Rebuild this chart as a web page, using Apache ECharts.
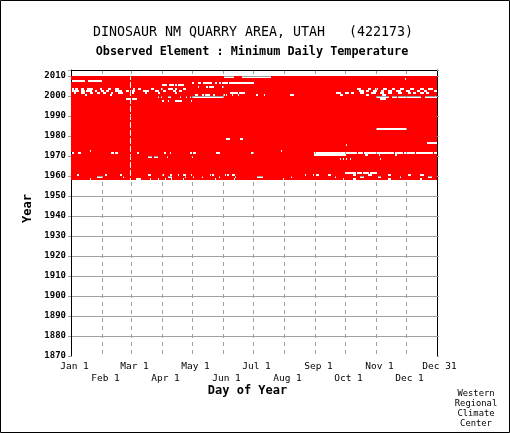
<!DOCTYPE html>
<html>
<head>
<meta charset="utf-8">
<script src="https://cdn.jsdelivr.net/npm/echarts@6/dist/echarts.min.js"></script>
<style>
  html, body { margin: 0; padding: 0; background: #fff; }
  #chart { width: 510px; height: 433px; }
</style>
</head>
<body>
<div id="chart"></div>
<script>
// days are numbered 1..366 on a leap-year calendar (day 60 = Feb 29)
const yearRange = [1959, 2010]
const monthStartDays = [1, 32, 61, 92, 122, 153, 183, 214, 245, 275, 306, 336]
const labelDays = [1, 32, 61, 92, 122, 153, 183, 214, 245, 275, 306, 336, 366]
const dayLabels = ['Jan 1', 'Feb 1', 'Mar 1', 'Apr 1', 'May 1', 'Jun 1', 'Jul 1',
  'Aug 1', 'Sep 1', 'Oct 1', 'Nov 1', 'Dec 1', 'Dec 31']

// missing days per year, [first, last] inclusive
const missingDays = {
  2010: [[154, 163], [172, 200]],
  2009: [[335, 335]],
  2008: [[1, 14], [18, 31]],
  2007: [[122, 123], [128, 130], [133, 141], [145, 146], [149, 150], [152, 157], [159, 183]],
  2006: [[92, 96], [99, 103], [105, 106], [108, 113]],
  2005: [[128, 128], [136, 137], [139, 143], [152, 153]],
  2004: [[2, 3], [5, 7], [11, 13], [17, 22], [30, 31], [38, 40], [45, 48], [63, 64], [68, 70],
    [81, 83], [91, 92], [98, 102], [105, 106], [113, 115],
    [287, 290], [298, 300], [305, 307], [313, 316], [322, 324], [330, 333], [340, 343],
    [350, 353], [358, 362]],
  2003: [[2, 8], [11, 14], [16, 21], [25, 26], [31, 33], [36, 38], [45, 51], [56, 58], [62, 64],
    [73, 78], [85, 88], [93, 95], [103, 105], [109, 111],
    [289, 293], [296, 298], [303, 306], [311, 313], [318, 321], [326, 330], [336, 339],
    [347, 349], [354, 356], [364, 366]],
  2002: [[4, 5], [11, 14], [20, 22], [27, 29], [33, 35], [41, 42], [48, 52], [62, 63], [75, 76],
    [88, 89], [105, 106], [160, 167], [169, 174],
    [266, 270], [275, 278], [281, 283], [290, 293], [301, 305], [310, 313], [318, 321],
    [328, 331], [338, 340], [343, 345], [350, 353], [356, 358]],
  2001: [[15, 16], [40, 41], [125, 127], [132, 133], [135, 139], [143, 144], [153, 154],
    [156, 156], [162, 162], [168, 168], [186, 187], [194, 194], [220, 223],
    [270, 272], [296, 298], [312, 315]],
  2000: [[88, 88], [91, 91], [98, 100], [110, 110], [116, 116], [120, 120], [122, 153],
    [306, 318], [322, 326], [328, 350], [355, 366]],
  1999: [[56, 59], [62, 66], [310, 315]],
  1998: [[92, 93], [98, 98], [105, 111], [121, 121]],
  1984: [[306, 336]],
  1979: [[156, 159], [170, 172]],
  1977: [[357, 366]],
  1976: [[276, 276]],
  1973: [[20, 20], [211, 211]],
  1972: [[1, 3], [8, 10], [41, 43], [45, 47], [67, 68], [94, 95], [100, 100], [120, 121],
    [123, 125], [146, 149], [181, 183], [244, 286], [288, 292], [294, 323], [325, 332],
    [334, 344], [346, 362], [364, 366]],
  1971: [[244, 275], [295, 297], [309, 309], [325, 326]],
  1970: [[78, 81], [84, 87], [97, 97], [122, 122]],
  1969: [[270, 270], [273, 273], [276, 276], [280, 280], [310, 310]],
  1962: [[275, 285], [287, 291], [293, 298], [300, 306]],
  1961: [[7, 8], [35, 36], [50, 51], [78, 80], [92, 93], [100, 101], [108, 108], [113, 115],
    [121, 121], [140, 140], [142, 143], [155, 155], [157, 158], [162, 164], [235, 235],
    [243, 243], [246, 248], [258, 260], [283, 285], [298, 301], [318, 320], [338, 340],
    [350, 353]],
  1960: [[27, 32], [53, 53], [98, 101], [115, 115], [123, 123], [132, 132], [149, 149],
    [165, 165], [187, 192], [221, 221], [265, 265], [290, 293], [308, 310], [330, 330],
    [358, 361]],
  1959: [[20, 20], [66, 70], [80, 80], [88, 88], [95, 95], [101, 101], [113, 113], [145, 145],
    [164, 164], [213, 213], [273, 273], [283, 285], [318, 320], [350, 351]]
}

const FONT = 'DejaVu Sans Mono'
const GRID_GREY = '#a0a0a0'

// turn the gaps of one year into runs of days that have data
function presentRuns(year) {
  const gaps = (missingDays[year] || []).slice()
  if (year % 4 !== 0) gaps.push([60, 60]) // no Feb 29 in common years
  gaps.sort((a, b) => a[0] - b[0])
  const runs = []
  let d = 1
  gaps.forEach(g => {
    if (g[0] > d) runs.push([d, g[0] - 1, year])
    d = Math.max(d, g[1] + 1)
  })
  if (d <= 366) runs.push([d, 366, year])
  return runs
}

let runs = []
for (let y = yearRange[0]; y <= yearRange[1]; y++) {
  runs = runs.concat(presentRuns(y))
}

// labels alternate between two rows under the axis
const upperRowDays = labelDays.filter((d, i) => i % 2 === 0)
const lowerRowDays = labelDays.filter((d, i) => i % 2 === 1)
const dayLabel = v => {
  const i = labelDays.indexOf(v)
  return i < 0 ? '' : dayLabels[i]
}
const labelStyle = {
  fontFamily: FONT,
  fontSize: 9.5,
  color: '#000',
  padding: [0, 0, 0, 7],
  hideOverlap: false,
  showMinLabel: true,
  showMaxLabel: true,
  formatter: dayLabel
}

const chart = echarts.init(document.getElementById('chart'))

chart.setOption({
  animation: false,
  grid: { left: 71, top: 70, width: 366, height: 286 },
  graphic: [
    {
      type: 'rect',
      shape: { x: 0.5, y: 0.5, width: 509, height: 432 },
      style: { fill: 'none', stroke: '#000', lineWidth: 1 }
    },
    {
      type: 'text',
      style: {
        x: 253, y: 33, text: 'DINOSAUR NM QUARRY AREA, UTAH   (422173)',
        font: '13.3px "' + FONT + '"', fill: '#000', align: 'center', verticalAlign: 'middle'
      }
    },
    {
      type: 'text',
      style: {
        x: 252, y: 52, text: 'Observed Element : Minimum Daily Temperature',
        font: 'bold 11.8px "' + FONT + '"', fill: '#000', align: 'center', verticalAlign: 'middle'
      }
    },
    {
      type: 'text',
      style: {
        x: 476, y: 389, text: 'Western\nRegional\nClimate\nCenter',
        font: '8.8px "' + FONT + '"', lineHeight: 10, fill: '#000', align: 'center', verticalAlign: 'top'
      }
    }
  ],
  xAxis: [
    {
      type: 'value',
      min: 1,
      max: 367,
      position: 'bottom',
      name: 'Day of Year',
      nameLocation: 'middle',
      nameGap: 29,
      nameTextStyle: { fontFamily: FONT, fontWeight: 'bold', fontSize: 12, color: '#000', padding: [0, 13, 0, 0] },
      axisLine: { show: false },
      axisTick: { show: false, customValues: monthStartDays.slice(1) },
      splitLine: { show: true, lineStyle: { color: GRID_GREY, type: [4, 4], width: 1 } },
      axisLabel: Object.assign({ customValues: upperRowDays, margin: 6 }, labelStyle)
    },
    {
      type: 'value',
      min: 1,
      max: 367,
      position: 'bottom',
      axisLine: { show: false },
      axisTick: { show: false },
      splitLine: { show: false },
      axisLabel: Object.assign({ customValues: lowerRowDays, margin: 17.5 }, labelStyle)
    },
    {
      type: 'value',
      min: 1,
      max: 367,
      position: 'top',
      axisLine: { show: true, lineStyle: { color: '#000', width: 1 } },
      axisTick: { show: false },
      axisLabel: { show: false },
      splitLine: { show: false }
    }
  ],
  yAxis: [
    {
      type: 'value',
      min: 1870,
      max: 2013,
      interval: 10,
      position: 'left',
      name: 'Year',
      nameLocation: 'middle',
      nameGap: 37,
      nameRotate: 90,
      nameTextStyle: { fontFamily: FONT, fontWeight: 'bold', fontSize: 12, color: '#000', padding: [0, 0, 0, 9] },
      axisLine: { show: true, lineStyle: { color: '#000', width: 1 } },
      axisTick: { show: true, length: 3, lineStyle: { color: GRID_GREY } },
      splitLine: { show: true, showMinLine: false, showMaxLine: false, lineStyle: { color: GRID_GREY, width: 1 } },
      axisLabel: {
        margin: 5,
        fontFamily: FONT,
        fontWeight: 'bold',
        fontSize: 9,
        color: '#000',
        formatter: v => (v % 10 === 0 ? String(v) : '')
      }
    },
    {
      type: 'value',
      min: 1870,
      max: 2013,
      interval: 10,
      position: 'right',
      axisLine: { show: true, lineStyle: { color: '#000', width: 1 } },
      axisTick: { show: true, length: 2, lineStyle: { color: GRID_GREY } },
      axisLabel: { show: false },
      splitLine: { show: false }
    }
  ],
  series: [
    {
      type: 'custom',
      xAxisIndex: 0,
      yAxisIndex: 0,
      clip: true,
      encode: { x: [0, 1], y: 2 },
      data: runs,
      renderItem: (params, api) => {
        const p0 = api.coord([api.value(0), api.value(2)])
        const p1 = api.coord([api.value(1) + 1, api.value(2) - 1])
        return {
          type: 'rect',
          shape: { x: p0[0], y: p0[1], width: p1[0] - p0[0], height: p1[1] - p0[1] },
          style: { fill: '#ff0000' }
        }
      }
    }
  ]
})
</script>
</body>
</html>
